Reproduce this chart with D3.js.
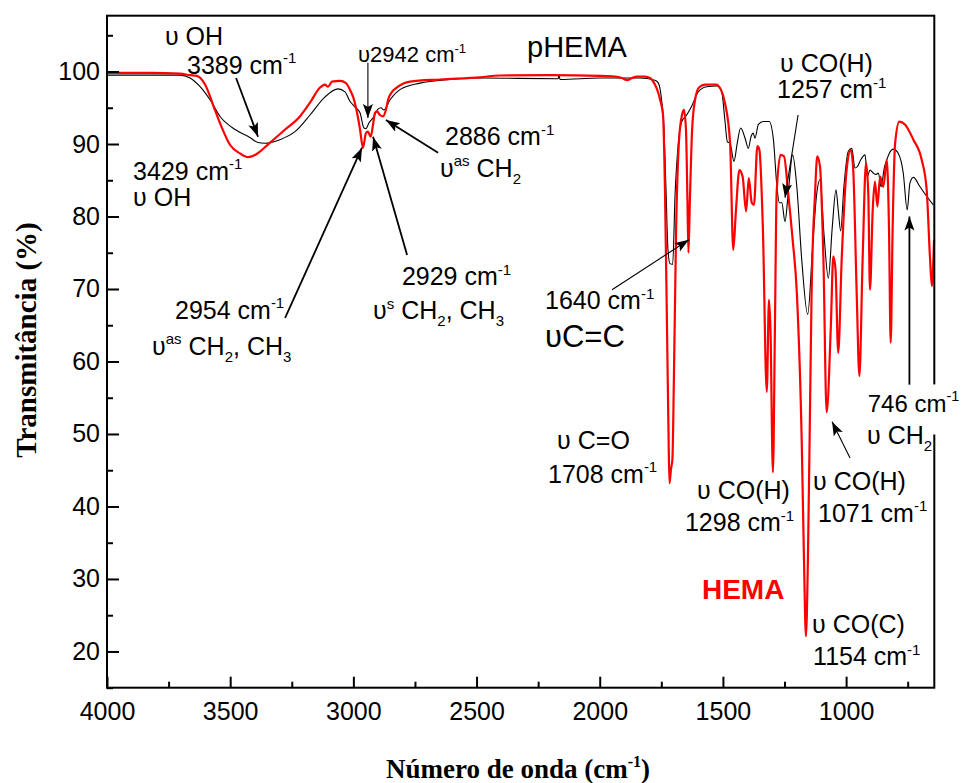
<!DOCTYPE html>
<html><head><meta charset="utf-8">
<script src="https://cdn.jsdelivr.net/npm/d3@7"></script>
<style>
html,body{margin:0;padding:0;background:#fff;}
svg{display:block;}
</style></head>
<body>
<svg id="chart" width="965" height="783"></svg>
<script>
// ---------- DATA ----------
// HEMA (red) spectrum: wavenumber (cm-1) and transmittance (%)
const hemaWn = [4000,3825,3704,3663,3635,3602,3562,3533,3501,3460,3428,3399,3338,3277,3217,3176,3135,3115,3103,3087,3054,3030,3014,3001,2985,2973,2961,2949,2941,2930,2920,2912,2904,2892,2880,2868,2859,2843,2823,2770,2648,2486,2405,2202,1999,1938,1910,1889,1869,1849,1816,1796,1776,1763,1755,1743,1735,1727,1721,1717,1711,1705,1699,1690,1678,1666,1658,1650,1644,1640,1634,1625,1613,1597,1573,1528,1508,1492,1471,1458,1447,1433,1420,1406,1395,1383,1374,1360,1352,1338,1322,1313,1307,1297,1289,1282,1266,1252,1235,1217,1200,1180,1171,1163,1155,1146,1140,1126,1117,1106,1092,1079,1062,1052,1043,1032,1018,998,981,971,957,946,933,919,910,903,892,883,873,862,849,835,826,819,811,801,784,761,727,693,673,659,652,643];
const hemaT  = [99.8,99.8,99.7,99.5,99.4,98.2,94.7,92.2,89.9,88.7,88.2,88.5,90.2,92.0,93.8,95.7,97.8,98.2,97.9,98.6,98.7,98.4,97.5,96.5,94.3,92.0,89.5,91.5,91.7,91.0,92.7,94.3,94.5,94.0,93.8,94.7,96.1,97.2,97.8,98.6,98.9,99.2,99.45,99.5,99.4,99.3,99.1,98.8,99.1,99.3,99.3,99.1,98.2,97.1,96.1,94.0,83.3,64.8,50.6,43.2,45.1,46.5,57.5,78.2,90.6,94.0,94.7,92.0,82.3,75.0,82.3,92.0,96.1,97.8,98.2,98.2,97.5,95.7,90.2,75.4,80.9,86.4,85.5,80.7,85.3,81.9,81.6,89.7,89.2,78.6,55.8,68.5,64.4,44.7,64.4,83.2,88.5,88.3,83.2,76.8,69.5,48.8,32.7,22.1,32.7,54.7,69.5,83.2,88.3,86.9,74.0,53.0,64.8,74.5,72.7,61.2,74.0,86.4,89.2,86.4,69.4,58.0,74.0,87.4,83.2,69.9,80.9,84.8,81.4,85.5,84.1,87.8,78.6,62.6,78.6,90.1,93.1,92.7,90.6,87.8,83.7,74.0,70.4,76.8];
// pHEMA (black) spectrum
const phemaWn = [4000,3825,3704,3663,3622,3582,3541,3480,3420,3387,3359,3298,3237,3176,3115,3062,3034,3014,2993,2973,2957,2949,2937,2920,2900,2888,2876,2851,2811,2730,2608,2486,2169,2165,2161,1999,1837,1776,1762,1749,1739,1731,1723,1715,1704,1694,1681,1667,1647,1627,1600,1566,1525,1505,1492,1482,1471,1455,1442,1428,1410,1397,1386,1377,1370,1356,1336,1312,1295,1282,1271,1261,1248,1235,1217,1200,1180,1156,1135,1119,1106,1090,1072,1056,1041,1032,1022,1009,991,977,964,954,941,923,914,903,890,879,869,858,845,835,825,808,788,768,752,741,727,700,673,646];
const phemaT  = [99.5,99.5,99.5,99.1,97.9,96.1,93.8,92.0,90.9,90.2,90.1,90.6,91.7,94.0,96.5,97.6,97.2,95.9,95.1,94.3,92.2,92.1,92.9,93.6,94.8,95.0,94.7,96.1,97.5,98.4,98.9,99.1,99.0,99.5,98.9,99.1,99.1,98.8,98.4,96.1,92.0,83.7,75.4,73.5,73.4,83.2,90.1,93.1,94.0,95.2,97.2,97.9,98.0,97.2,93.3,90.3,90.1,87.6,90.1,92.2,90.8,89.4,91.0,91.5,90.8,92.7,93.1,93.1,90.6,84.6,81.9,81.9,79.3,83.2,88.5,84.1,74.0,66.5,76.3,83.2,85.1,77.7,71.5,78.6,83.7,80.9,78.0,84.1,89.0,89.4,86.7,86.9,87.8,88.5,85.5,86.4,86.0,85.8,86.0,84.1,86.7,87.8,88.7,89.3,88.7,86.0,80.9,84.6,85.4,84.1,82.8,81.6];

// Axis ticks
const xMajorTicks = [4000,3500,3000,2500,2000,1500,1000];
const xMinorTicks = [3750,3250,2750,2250,1750,1250,750];
const yMajorTicks = [20,30,40,50,60,70,80,90,100];
const yMinorTicks = [15,25,35,45,55,65,75,85,95,105];

// Annotation texts: [text, wavenumber, transmittance]
const labelTexts = [
  ["υ OH", 3765, 103.7],
  ["3389 cm^{-1}", 3675, 99.7],
  ["3429 cm^{-1}", 3894, 85.1],
  ["υ OH", 3894, 81.5],
  ["2886 cm^{-1}", 2628, 89.8],
  ["υ^{as} CH_{2}", 2648, 85.5],
  ["2954 cm^{-1}", 3724, 65.9],
  ["υ^{as} CH_{2}, CH_{3}", 3817, 60.9],
  ["2929 cm^{-1}", 2803, 70.5],
  ["υ^{s} CH_{2}, CH_{3}", 2920, 65.8],
  ["1640 cm^{-1}", 2222, 67.2],
  ["υ CO(H)", 1268, 100.0],
  ["1257 cm^{-1}", 1280, 96.3],
  ["υ C=O", 2173, 47.9],
  ["1708 cm^{-1}", 2210, 43.3],
  ["υ CO(H)", 1605, 41.0],
  ["1298 cm^{-1}", 1654, 36.6],
  ["υ CO(H)", 1134, 42.3],
  ["1071 cm^{-1}", 1114, 37.9],
  ["υ CO(C)", 1138, 22.5],
  ["1154 cm^{-1}", 1134, 18.1],
  ["υ CH_{2}", 915, 48.6]
];
const smallLabel = ["υ2942 cm^{-1}", 2981, 101.3];
const bigLabel = ["υC=C", 2222, 62.0];
const boxedLabel = ["746 cm^{-1}", 912, 53.1];
const seriesLabels = [["pHEMA", 2295, 102.0], ["HEMA", 1585, 27.2]];

// Arrows: [fromWn, fromT, toWn, toT, heavy]
const arrows = [
  [3476, 99.1, 3387, 91.0, 1],
  [2941, 101.2, 2941, 93.6, 0],
  [2656, 88.8, 2868, 93.3, 1],
  [3277, 66.0, 2965, 89.5, 1],
  [2782, 74.7, 2920, 91.0, 1],
  [1950, 69.9, 1638, 76.8, 0],
  [1195, 94.0, 1248, 82.6, 0],
  [984, 46.7, 1057, 51.7, 0],
  [743, 56.8, 743, 80.0, 1]
];

// ---------- CHART ----------
const svg = d3.select("#chart");
const L = 107, R = 934.3, T = 15.7, B = 687.7;
const x = d3.scaleLinear().domain([4000, 642]).range([L, R]);
const y = d3.scaleLinear().domain([15, 107.7]).range([B, T]);
const sans = "'Liberation Sans', Arial, sans-serif";
const serif = "'Liberation Serif', 'Times New Roman', serif";

const defs = svg.append("defs");
defs.append("marker").attr("id","ah").attr("markerUnits","userSpaceOnUse")
  .attr("markerWidth",16).attr("markerHeight",12).attr("refX",14).attr("refY",5)
  .attr("orient","auto")
  .append("path").attr("d","M0,0 L14,5 L0,10 L3,5 Z").attr("fill","#000");

// spectra
const line = d3.line().x(d => x(d[0])).y(d => y(d[1])).curve(d3.curveMonotoneX);
svg.append("path").datum(phemaWn.map((w,i)=>[w, phemaT[i]]))
  .attr("d", line).attr("fill","none").attr("stroke","#000").attr("stroke-width",1.1);
svg.append("path").datum(hemaWn.map((w,i)=>[w, hemaT[i]]))
  .attr("d", line).attr("fill","none").attr("stroke","#ff0000").attr("stroke-width",2.2)
  .attr("stroke-linejoin","round");

// axes
function styleAxis(g){
  g.select(".domain").remove();
  g.selectAll(".tick line").attr("stroke","#000").attr("stroke-width",2);
  g.selectAll("text").attr("font-family", sans).attr("font-size", 25).attr("fill","#000");
}
svg.append("g").attr("transform",`translate(0,${B})`)
  .call(d3.axisBottom(x).tickValues(xMajorTicks).tickSize(-11).tickPadding(15).tickFormat(d3.format("d")))
  .call(styleAxis);
svg.append("g").attr("transform",`translate(0,${B})`)
  .call(d3.axisBottom(x).tickValues(xMinorTicks).tickSize(-6).tickFormat(""))
  .call(styleAxis);
svg.append("g").attr("transform",`translate(${L},0)`)
  .call(d3.axisLeft(y).tickValues(yMajorTicks).tickSize(-12).tickPadding(7).tickFormat(d3.format("d")))
  .call(styleAxis);
svg.append("g").attr("transform",`translate(${L},0)`)
  .call(d3.axisLeft(y).tickValues(yMinorTicks).tickSize(-6).tickFormat(""))
  .call(styleAxis);

// frame
svg.append("rect").attr("x",L).attr("y",T).attr("width",R-L).attr("height",B-T)
  .attr("fill","none").attr("stroke","#000").attr("stroke-width",2);

// rich text helper
function rich(sel, str, fs){
  const toks = str.split(/(\^\{[^}]*\}|_\{[^}]*\})/).filter(s=>s.length);
  let shift = 0;
  toks.forEach(t=>{
    let target = 0, txt = t, size = fs;
    if (t.startsWith("^{")) { target = -0.42*fs; txt = t.slice(2,-1); size = 0.6*fs; }
    else if (t.startsWith("_{")) { target = 0.28*fs; txt = t.slice(2,-1); size = 0.6*fs; }
    sel.append("tspan").attr("dy", target - shift).attr("font-size", size).text(txt);
    shift = target;
  });
}
function addLabel(spec, fs, opts = {}){
  const t = svg.append("text").attr("x", x(spec[1])).attr("y", y(spec[2]))
    .attr("font-family", sans).attr("font-size", fs).attr("fill", opts.fill || "#000")
    .attr("font-weight", opts.weight || "normal");
  rich(t, spec[0], fs);
  return t;
}

// boxed label (interrupts right frame)
const bx = addLabel(boxedLabel, 24);
const bb = bx.node().getBBox();
svg.insert("rect", () => bx.node()).attr("x", bb.x - 2).attr("y", bb.y - 4)
  .attr("width", bb.width + 6).attr("height", bb.height + 22).attr("fill","#fff");

labelTexts.forEach(s => addLabel(s, 25));
addLabel(smallLabel, 22);
addLabel(bigLabel, 31);
addLabel(seriesLabels[0], 29);
addLabel(seriesLabels[1], 28, {fill:"#ff0000", weight:"bold"});

// arrows
arrows.forEach(a=>{
  svg.append("line").attr("x1", x(a[0])).attr("y1", y(a[1])).attr("x2", x(a[2])).attr("y2", y(a[3]))
    .attr("stroke","#000").attr("stroke-width", a[4] ? 1.8 : 1.1).attr("marker-end","url(#ah)");
});

// axis titles
const xt = svg.append("text").attr("x", 518).attr("y", 778).attr("text-anchor","middle")
  .attr("font-family", serif).attr("font-weight","bold").attr("font-size", 27);
rich(xt, "Número de onda (cm^{-1})", 27);
svg.append("text").attr("transform","translate(36,340) rotate(-90)").attr("text-anchor","middle")
  .attr("font-family", serif).attr("font-weight","bold").attr("font-size", 29)
  .text("Transmitância (%)");
</script>
</body></html>
